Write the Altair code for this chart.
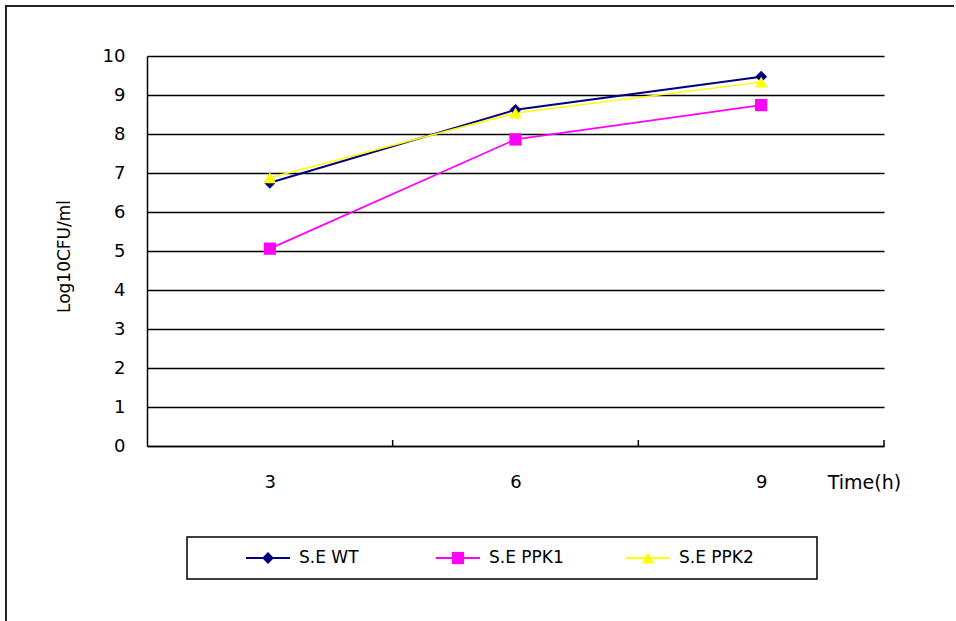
import altair as alt
import pandas as pd

# Growth of S. Enteritidis strains (Log10 CFU/ml) over time
hours = [3, 6, 9]
series_names = ["S.E WT", "S.E PPK1", "S.E PPK2"]
wt_values = [6.75, 8.62, 9.47]
ppk1_values = [5.06, 7.86, 8.74]
ppk2_values = [6.88, 8.54, 9.33]
series_colors = ["#000080", "#FF00FF", "#FFFF00"]
series_shapes = ["diamond", "square", "triangle-up"]
y_ticks = list(range(0, 11))
category_edges = [4.5, 7.5, 10.5]  # boundaries between the hour categories

rows = []
for name, vals in zip(series_names, [wt_values, ppk1_values, ppk2_values]):
    for h, v in zip(hours, vals):
        rows.append({"hour": h, "value": v, "series": name})
df = pd.DataFrame(rows)
legend_df = pd.DataFrame({"series": series_names})
one_row = pd.DataFrame({"k": [0]})

FONT = "DejaVu Sans"
W, H = 737, 390
PAD = {"left": 147, "top": 56, "right": 70, "bottom": 175}

x_scale = alt.Scale(domain=[1.5, 10.5], nice=False, zero=False)
y_scale = alt.Scale(domain=[0, 10], nice=False)
color_scale = alt.Scale(domain=series_names, range=series_colors)
shape_scale = alt.Scale(domain=series_names, range=series_shapes)
size_scale = alt.Scale(domain=series_names, range=[140, 160, 160])
width_scale = alt.Scale(domain=series_names, range=[2, 1.5, 2.2])

x_axis = alt.Axis(
    values=hours, title="Time(h)", grid=False, ticks=False, tickSize=0,
    labelPadding=36, labelBaseline="middle", labelFont=FONT, labelFontSize=18,
    labelColor="black", domainColor="black", domainWidth=1.5,
    titleX=717, titleY=36, titleAlign="center", titleBaseline="middle",
    titleFont=FONT, titleFontSize=19, titleFontWeight="normal", titleColor="black",
)
y_axis = alt.Axis(
    values=y_ticks, grid=True, gridColor="black", gridWidth=1.5, gridOpacity=1,
    ticks=False, tickSize=0, labelPadding=22, labelFont=FONT, labelFontSize=18,
    labelColor="black", domainColor="black", domainWidth=1.5,
    title="Log10CFU/ml", titleX=-83, titleY=200, titleAngle=-90,
    titleAlign="center", titleBaseline="middle", titleFont=FONT,
    titleFontSize=17, titleFontWeight="normal", titleColor="black",
)

x_enc = alt.X("hour:Q", scale=x_scale, axis=x_axis)
y_enc = alt.Y("value:Q", scale=y_scale, axis=y_axis)

lines = alt.Chart(df).mark_line().encode(
    x=x_enc,
    y=y_enc,
    color=alt.Color("series:N", scale=color_scale, legend=None),
    strokeWidth=alt.StrokeWidth("series:N", scale=width_scale, legend=None),
)

points = alt.Chart(df).mark_point(filled=True, opacity=1).encode(
    x=x_enc,
    y=y_enc,
    color=alt.Color("series:N", scale=color_scale, legend=None),
    shape=alt.Shape("series:N", scale=shape_scale, legend=None),
    size=alt.Size("series:N", scale=size_scale, legend=None),
)

# small inward tick marks between the hour categories
edge_ticks = alt.Chart(pd.DataFrame({"hour": category_edges})).mark_rule(
    color="black", strokeWidth=1.5
).encode(
    x=x_enc,
    y=alt.value(H),
    y2=alt.value(H - 6),
)

main = alt.layer(lines, points, edge_ticks)

# outer chart frame
frame = alt.Chart(one_row).mark_rect(filled=False, color="#222222", strokeWidth=2).encode(
    x=alt.value(-141), x2=alt.value(W + 120), y=alt.value(-50), y2=alt.value(H + 260)
)

# legend box and entries
legend_box = alt.Chart(one_row).mark_rect(filled=False, color="black", strokeWidth=1.5).encode(
    x=alt.value(40), x2=alt.value(670), y=alt.value(481), y2=alt.value(523)
)
leg_x = alt.X(
    "series:N", sort=series_names, axis=None,
    scale=alt.Scale(domain=series_names, type="point", range=[121, 501], padding=0),
)
LEG_Y = 502
leg_line = alt.Chart(legend_df).mark_tick(orient="horizontal", size=44, thickness=2, opacity=1).encode(
    x=leg_x, y=alt.value(LEG_Y),
    color=alt.Color("series:N", scale=color_scale, legend=None),
)
leg_pts = alt.Chart(legend_df).mark_point(filled=True, opacity=1).encode(
    x=leg_x, y=alt.value(LEG_Y),
    color=alt.Color("series:N", scale=color_scale, legend=None),
    shape=alt.Shape("series:N", scale=shape_scale, legend=None),
    size=alt.Size("series:N", scale=size_scale, legend=None),
)
leg_text = alt.Chart(legend_df).mark_text(
    align="left", baseline="middle", dx=31, font=FONT, fontSize=17, color="black"
).encode(
    x=leg_x, y=alt.value(LEG_Y), text="series:N",
)
legend = alt.layer(leg_line, leg_pts, leg_text)

chart = alt.layer(frame, main, legend_box, legend).resolve_scale(
    x="independent"
).properties(
    width=W, height=H, padding=PAD,
    autosize=alt.AutoSizeParams(type="none"),
    background="white",
).configure_view(strokeWidth=0)

chart.save("out.html", embed_options={"renderer": "svg", "actions": False})
